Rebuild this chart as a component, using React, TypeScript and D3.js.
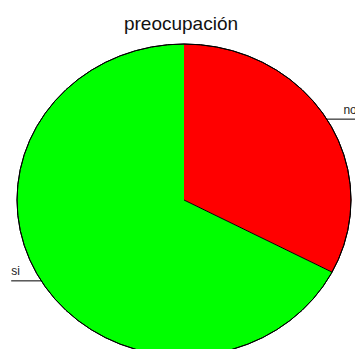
import React, { useEffect, useRef } from 'react';
import * as d3 from 'd3';

// chart data
const categories = ['no', 'si'];
const counts = [16, 33];
const colors = ['#ff0000', '#00ff00'];
const title = 'preocupación';

const App = () => {
  const ref = useRef<HTMLDivElement>(null);

  const width = 355;
  const height = 349;
  const cx = 184;
  const cy = 200;
  const rx = 167;
  const ry = 156;

  useEffect(() => {
    d3.select(ref.current).select('svg').remove();

    const svg = d3
      .select(ref.current)
      .append('svg')
      .attr('width', width)
      .attr('height', height)
      .style('position', 'absolute')
      .style('left', 0)
      .style('top', 0)
      .style('font-family', 'Liberation Sans, Arial, sans-serif');

    svg.append('rect').attr('width', width).attr('height', height).attr('fill', '#fff');

    const data = categories.map((c, i) => ({ label: c, value: counts[i], color: colors[i] }));

    // pie keeps the order of the data, clockwise from 12 o'clock
    const pie = d3.pie<any>().value((d) => d.value).sort(null);
    const arcs = pie(data);

    // draw on a unit radius and stretch it into an ellipse
    const arc = d3.arc<any>().innerRadius(0).outerRadius(1);
    const g = svg
      .append('g')
      .attr('transform', `translate(${cx},${cy}) scale(${rx},${ry})`);

    g.selectAll('path.slice')
      .data(arcs)
      .enter()
      .append('path')
      .attr('class', 'slice')
      .attr('d', arc)
      .attr('fill', (d) => d.data.color);

    // outline of the pie
    g.append('path')
      .attr('d', d3.arc()({ innerRadius: 1, outerRadius: 1, startAngle: 0, endAngle: 2 * Math.PI }) as string)
      .attr('fill', 'none')
      .attr('stroke', '#000')
      .attr('stroke-width', 1)
      .attr('vector-effect', 'non-scaling-stroke');

    // radial edges, except the one at 12 o'clock
    g.selectAll('line.edge')
      .data(arcs.filter((d) => d.startAngle > 0))
      .enter()
      .append('line')
      .attr('class', 'edge')
      .attr('x1', 0)
      .attr('y1', 0)
      .attr('x2', (d) => Math.sin(d.startAngle))
      .attr('y2', (d) => -Math.cos(d.startAngle))
      .attr('stroke', '#000')
      .attr('stroke-width', 1)
      .attr('vector-effect', 'non-scaling-stroke');

    // labels: horizontal leader line from the edge, text above its outer end
    const lineLen = 30;
    arcs.forEach((d) => {
      const mid = (d.startAngle + d.endAngle) / 2;
      const sx = Math.sin(mid);
      const x0 = cx + rx * sx;
      const y0 = cy - ry * Math.cos(mid);
      const dir = sx >= 0 ? 1 : -1;
      const x1 = x0 + dir * lineLen;
      svg
        .append('line')
        .attr('x1', x0)
        .attr('y1', y0)
        .attr('x2', x1)
        .attr('y2', y0)
        .attr('stroke', '#000')
        .attr('stroke-width', 1);
      svg
        .append('text')
        .attr('x', x1)
        .attr('y', y0 - 5.5)
        .attr('text-anchor', dir > 0 ? 'end' : 'start')
        .attr('font-size', 12)
        .attr('fill', '#222')
        .text(d.data.label);
    });

    svg
      .append('text')
      .attr('x', 181)
      .attr('y', 30)
      .attr('text-anchor', 'middle')
      .attr('font-size', 19)
      .attr('fill', '#111')
      .text(title);
  }, []);

  return <div ref={ref} style={{ width: width, height: height }}></div>;
};

export default App;
